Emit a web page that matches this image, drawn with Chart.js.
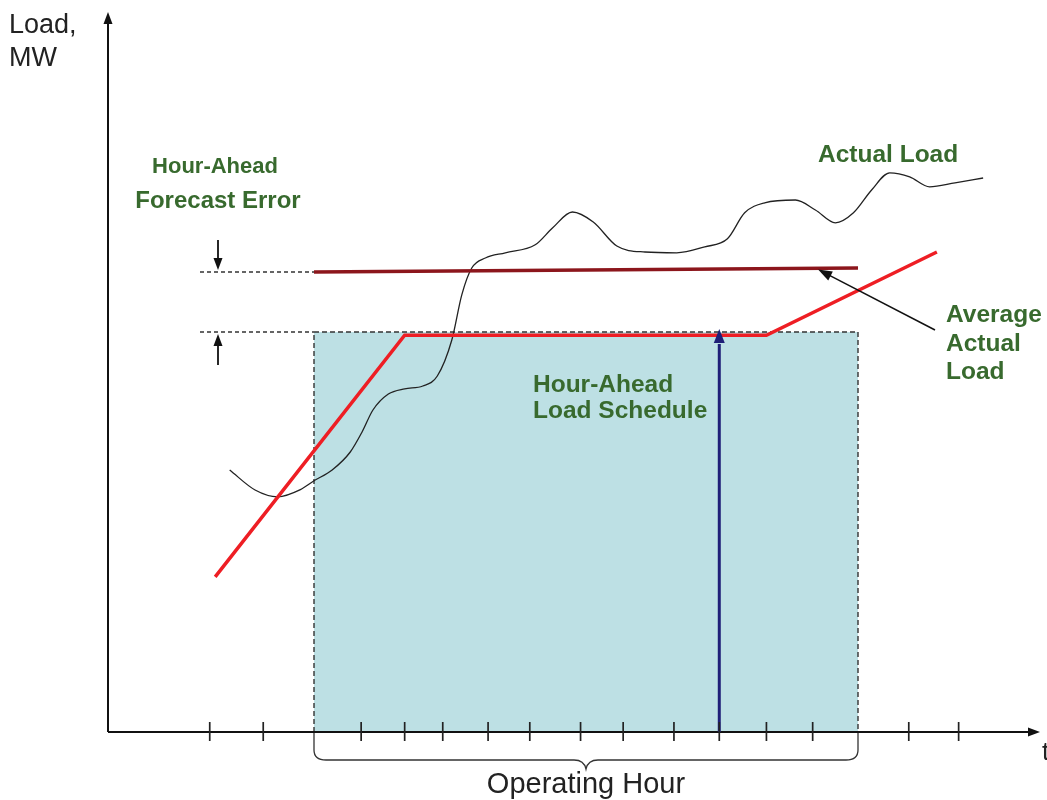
<!DOCTYPE html>
<html>
<head>
<meta charset="utf-8">
<script src="https://cdn.jsdelivr.net/npm/chart.js@4/dist/chart.umd.min.js"></script>
<style>
html,body{margin:0;padding:0;background:#fff;}
#wrap{width:1047px;height:800px;}
canvas{display:block;}
</style>
</head>
<body>
<div id="wrap"><canvas id="c" width="1047" height="800"></canvas></div>
<script>
// ---- data (time in minutes from start of operating hour, load in MW) ----
const operatingHour = [0, 60];
const scheduleMW = 100;
const avgActualTime = [0, 60];
const avgActualMW = [115, 116];
const rampTime = [-10.9, 10, 49.9, 68.7];
const rampMW = [38.8, 99.2, 99.2, 120];
const actualTime = [-9.3, -6.5, -4.0, -1.5, 0, 2.0, 4.0, 5.3, 6.5, 8.2, 10.0, 12.0, 13.6, 15.2, 16.3, 17.4, 18.9, 21.1, 24.4, 26.3, 28.5, 30.8, 33.4, 36.5, 40.0, 43.1, 45.6, 47.5, 49.7, 53.1, 55.3, 57.5, 59.5, 61.5, 63.5, 65.7, 67.9, 70.7, 73.8];
const actualMW = [65.5, 60.5, 58.8, 60.6, 62.8, 65.5, 70, 75, 80.5, 84.5, 85.8, 86.5, 89, 98, 109.3, 116, 118.5, 119.8, 121.8, 126, 130, 127.5, 121.5, 120, 119.8, 121.3, 123.3, 129.8, 132.3, 133, 130.5, 127.3, 129.8, 135.5, 139.8, 138.8, 136.3, 137.3, 138.5];
const tickMinutes = [-11.5, -5.6, 5.2, 10, 14.2, 19.2, 23.8, 29.4, 34.1, 39.7, 44.7, 49.9, 55.0, 65.6, 71.1];
const forecastErrorMW = [100, 115];
const scheduleArrowTime = 44.7;
const axisLabels = {y: ["Load,", "MW"], x: "t", bracket: "Operating Hour"};

// ---- layout helpers ----
const PX_PER_MIN = 544 / 60;
const X_ORIGIN_PX = 314;
const xMin = -X_ORIGIN_PX / PX_PER_MIN;
const xMax = (1047 - X_ORIGIN_PX) / PX_PER_MIN;
const yMin = -17, yMax = 183;
const axisT = (108 - X_ORIGIN_PX) / PX_PER_MIN;
const xAxisEnd = (1040 - X_ORIGIN_PX) / PX_PER_MIN;
const guideStart = (200 - X_ORIGIN_PX) / PX_PER_MIN;

const pts = (xs, ys) => xs.map((x, i) => ({x, y: ys[i]}));
const GREEN = 'rgb(56,106,46)';

function arrowHead(ctx, x1, y1, x2, y2, len, wid, color) {
  const a = Math.atan2(y2 - y1, x2 - x1);
  ctx.save();
  ctx.fillStyle = color;
  ctx.beginPath();
  ctx.moveTo(x2, y2);
  ctx.lineTo(x2 - len * Math.cos(a) + wid * Math.sin(a), y2 - len * Math.sin(a) - wid * Math.cos(a));
  ctx.lineTo(x2 - len * Math.cos(a) - wid * Math.sin(a), y2 - len * Math.sin(a) + wid * Math.cos(a));
  ctx.closePath();
  ctx.fill();
  ctx.restore();
}
function arrow(ctx, x1, y1, x2, y2, lw, len, wid, color) {
  const a = Math.atan2(y2 - y1, x2 - x1);
  ctx.save();
  ctx.strokeStyle = color; ctx.lineWidth = lw;
  ctx.beginPath(); ctx.moveTo(x1, y1);
  ctx.lineTo(x2 - len * 0.8 * Math.cos(a), y2 - len * 0.8 * Math.sin(a));
  ctx.stroke();
  ctx.restore();
  arrowHead(ctx, x1, y1, x2, y2, len, wid, color);
}

const decor = {
  id: 'decor',
  afterDatasetsDraw(chart) {
    const ctx = chart.ctx;
    const X = v => chart.scales.x.getPixelForValue(v);
    const Y = v => chart.scales.y.getPixelForValue(v);
    const x0 = X(axisT), y0 = Y(0);
    // axis arrowheads
    arrowHead(ctx, x0, Y(50), x0, Y(180), 12, 4.5, '#111');
    arrowHead(ctx, X(50), y0, X(xAxisEnd), y0, 12, 4.5, '#111');
    // tick marks
    ctx.save();
    ctx.strokeStyle = '#222'; ctx.lineWidth = 1.7;
    tickMinutes.forEach(t => {
      ctx.beginPath(); ctx.moveTo(X(t), y0 - 10); ctx.lineTo(X(t), y0 + 9); ctx.stroke();
    });
    ctx.restore();
    // blue schedule arrow head
    arrowHead(ctx, X(scheduleArrowTime), y0, X(scheduleArrowTime), Y(scheduleMW) - 3, 14, 5.5, '#1f1f78');
    // forecast error arrows
    const ax = X(guideStart) + 18;
    arrow(ctx, ax, Y(forecastErrorMW[1]) - 32, ax, Y(forecastErrorMW[1]) - 2, 1.8, 12, 4.5, '#111');
    arrow(ctx, ax, Y(forecastErrorMW[0]) + 33, ax, Y(forecastErrorMW[0]) + 2, 1.8, 12, 4.5, '#111');
    // annotation arrow to average actual load
    arrow(ctx, 935, 330, X(55.6), Y(avgActualMW[1]) + 1.5, 1.5, 14, 5, '#111');
    // brace under operating hour
    const bl = X(operatingHour[0]), br = X(operatingHour[1]), bm = X((operatingHour[0] + operatingHour[1]) / 2);
    ctx.save();
    ctx.strokeStyle = '#333'; ctx.lineWidth = 1.3;
    ctx.beginPath();
    ctx.moveTo(bl, y0 + 1);
    ctx.lineTo(bl, y0 + 18);
    ctx.quadraticCurveTo(bl, y0 + 28, bl + 12, y0 + 28);
    ctx.lineTo(bm - 12, y0 + 28);
    ctx.quadraticCurveTo(bm - 2, y0 + 28, bm, y0 + 37);
    ctx.quadraticCurveTo(bm + 2, y0 + 28, bm + 12, y0 + 28);
    ctx.lineTo(br - 12, y0 + 28);
    ctx.quadraticCurveTo(br, y0 + 28, br, y0 + 18);
    ctx.lineTo(br, y0 + 1);
    ctx.stroke();
    ctx.restore();
    // texts
    ctx.save();
    ctx.textBaseline = 'alphabetic';
    ctx.fillStyle = '#222';
    ctx.font = '27px "Liberation Sans", Arial, sans-serif';
    ctx.textAlign = 'left';
    ctx.fillText(axisLabels.y[0], 9, 33);
    ctx.fillText(axisLabels.y[1], 9, 66);
    ctx.font = '26px "Liberation Sans", Arial, sans-serif';
    ctx.fillText(axisLabels.x, 1042, 760);
    ctx.font = '29px "Liberation Sans", Arial, sans-serif';
    ctx.textAlign = 'center';
    ctx.fillText(axisLabels.bracket, bm, 793);
    ctx.fillStyle = GREEN;
    ctx.font = 'bold 22px "Liberation Sans", Arial, sans-serif';
    ctx.fillText('Hour-Ahead', 215, 173);
    ctx.font = 'bold 24px "Liberation Sans", Arial, sans-serif';
    ctx.fillText('Forecast Error', 218, 208);
    ctx.font = 'bold 24.5px "Liberation Sans", Arial, sans-serif';
    ctx.textAlign = 'left';
    ctx.fillText('Actual Load', 818, 162);
    ctx.fillText('Average', 946, 322);
    ctx.fillText('Actual', 946, 351);
    ctx.fillText('Load', 946, 379);
    ctx.fillText('Hour-Ahead', 533, 392);
    ctx.fillText('Load Schedule', 533, 418);
    ctx.restore();
  }
};

new Chart(document.getElementById('c'), {
  type: 'line',
  data: {
    datasets: [
      { data: pts([operatingHour[0], operatingHour[0], operatingHour[1], operatingHour[1]], [0, scheduleMW, scheduleMW, 0]),
        fill: 'origin', backgroundColor: 'rgb(189,224,228)', borderColor: '#333', borderWidth: 1.4, borderDash: [5, 3], order: 10, tension: 0 },
      { data: pts([guideStart, operatingHour[0]], [forecastErrorMW[1], forecastErrorMW[1]]), borderColor: '#333', borderWidth: 1.3, borderDash: [4, 3], order: 9 },
      { data: pts([guideStart, operatingHour[0]], [forecastErrorMW[0], forecastErrorMW[0]]), borderColor: '#333', borderWidth: 1.3, borderDash: [4, 3], order: 9 },
      { data: pts([axisT, xAxisEnd - 1], [0, 0]), borderColor: '#111', borderWidth: 2, order: 8 },
      { data: pts([axisT, axisT], [0, 178]), borderColor: '#111', borderWidth: 2, order: 8 },
      { data: pts([scheduleArrowTime, scheduleArrowTime], [0, scheduleMW - 3]), borderColor: '#1f1f78', borderWidth: 3, order: 7 },
      { data: pts(actualTime, actualMW), borderColor: '#222', borderWidth: 1.3, cubicInterpolationMode: 'monotone', order: 5 },
      { data: pts(avgActualTime, avgActualMW), borderColor: 'rgb(140,22,28)', borderWidth: 3.5, order: 4 },
      { data: pts(rampTime, rampMW), borderColor: 'rgb(238,30,36)', borderWidth: 3.5, order: 3 }
    ]
  },
  options: {
    responsive: false,
    animation: false,
    layout: { padding: 0 },
    elements: { point: { radius: 0 }, line: { fill: false, borderCapStyle: 'butt' } },
    plugins: { legend: { display: false }, tooltip: { enabled: false } },
    scales: {
      x: { type: 'linear', min: xMin, max: xMax, display: false },
      y: { type: 'linear', min: yMin, max: yMax, display: false }
    }
  },
  plugins: [decor]
});
</script>
</body>
</html>
